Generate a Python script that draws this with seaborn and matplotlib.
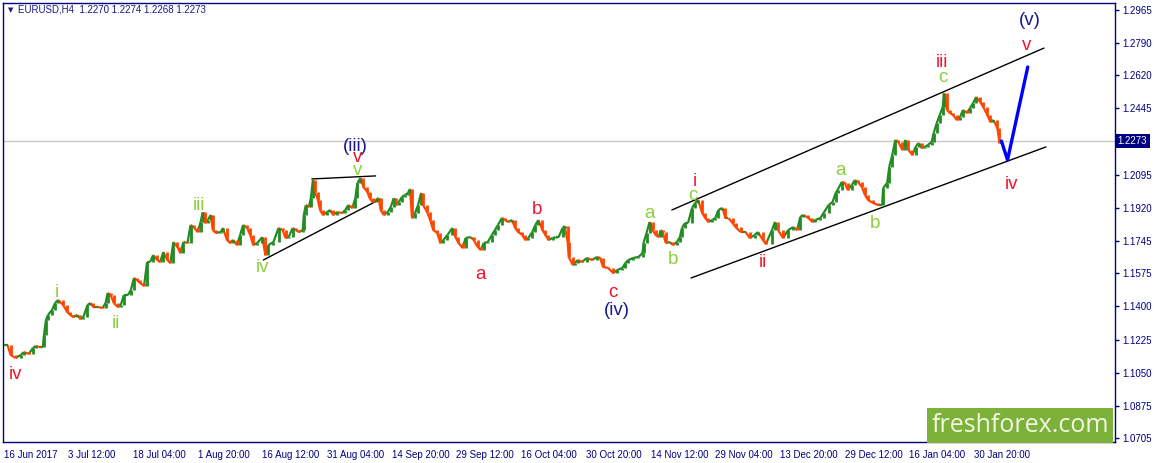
import matplotlib
matplotlib.use("Agg")
import matplotlib.pyplot as plt
import matplotlib.transforms as mtransforms
from matplotlib.collections import LineCollection
from matplotlib.patches import Rectangle
import numpy as np
import pandas as pd
import seaborn as sns

# ---------------- data (bar index, close) ----------------
bars = [0, 4, 7, 12, 17, 20, 25, 29, 32, 35, 39, 40, 42, 44, 48, 51, 54, 59, 63, 66,
        69, 73, 76, 79, 83, 86, 89, 93, 98, 101, 103, 106, 109, 113, 116, 119, 123, 126, 129, 132,
        135, 139, 142, 145, 148, 152, 155, 158, 162, 165, 168, 172, 175, 178, 182, 185, 188, 192, 195, 197,
        199, 202, 205, 207, 210, 215, 217, 221, 224, 227, 231, 234, 237, 241, 244, 247, 251,
        256, 259, 262, 267, 272, 276, 279, 282, 286, 289, 292, 296, 297, 299, 302, 304, 306, 308, 311, 313,
        316, 320, 323, 326, 330, 335, 338, 341, 345, 348, 350, 353, 356, 360, 362, 365, 368, 371, 373, 376,
        380, 383, 386, 388, 391, 394, 397, 400, 402, 404, 407, 410, 413, 415, 419, 422, 425, 429, 432, 435,
        439, 444, 447, 450, 454, 457, 462, 465, 469, 472, 475, 479, 483, 486, 489, 493, 496,
        499, 503, 506, 509, 513, 516, 519, 523, 526, 529, 533, 536, 539, 543, 546, 549, 553, 555, 558, 559,
        563, 565, 568, 572, 577, 582, 587, 590, 593, 598, 603, 607, 612, 615, 618, 623, 628, 632, 633, 636,
        639, 642, 645, 648, 650, 652, 655, 659, 662, 666, 669, 671, 674, 677, 681, 684, 687, 691, 694, 697,
        701, 704, 707, 711, 714, 717, 721, 724, 729, 734, 738,
        743, 746, 751, 754, 760, 763, 766, 771, 776, 781, 785, 788, 791, 796, 800, 803, 808, 811, 816, 820,
        823, 825, 829, 832, 835, 839, 842, 845, 849, 852, 855, 860, 865, 869, 870, 874, 876, 879, 882, 885,
        889, 892, 895, 899, 902, 905, 908, 911, 914, 918, 920, 923, 926, 929, 930, 933, 936, 939, 943, 946,
        949, 953, 956, 959, 962, 966, 969, 973, 976, 979, 983, 985, 987]

closes = [1.1196, 1.1196, 1.1143, 1.1128, 1.1143, 1.1159, 1.1149, 1.1180, 1.1191, 1.1186,
          1.1186, 1.1249, 1.1328, 1.1355, 1.1381, 1.1418, 1.1434, 1.1407, 1.1370, 1.1355,
          1.1344, 1.1355, 1.1333, 1.1344, 1.1407, 1.1418, 1.1397, 1.1397, 1.1392, 1.1418,
          1.1471, 1.1460, 1.1418, 1.1397, 1.1407, 1.1460, 1.1460, 1.1487, 1.1550, 1.1539,
          1.1524, 1.1508, 1.1634, 1.1634, 1.1671, 1.1645, 1.1634, 1.1687, 1.1645, 1.1629,
          1.1740, 1.1714, 1.1682, 1.1740, 1.1735, 1.1830, 1.1819, 1.1793, 1.1846, 1.1898,
          1.1840, 1.1856, 1.1883, 1.1803, 1.1788, 1.1793, 1.1814, 1.1751, 1.1735, 1.1751,
          1.1724, 1.1777, 1.1830, 1.1814, 1.1777, 1.1724, 1.1735,
          1.1766, 1.1671, 1.1724, 1.1740, 1.1814, 1.1803, 1.1761, 1.1766, 1.1814, 1.1803,
          1.1793, 1.1803, 1.1883, 1.1935, 1.1925, 1.1972, 1.2067, 1.2004, 1.1962, 1.1909,
          1.1883, 1.1898, 1.1909, 1.1883, 1.1898, 1.1893, 1.1909, 1.1935, 1.1920, 1.1972,
          1.2052, 1.2078, 1.2030, 1.2004, 1.1972, 1.1951, 1.1962, 1.1972, 1.1909, 1.1883,
          1.1898, 1.1925, 1.1972, 1.1935, 1.1951, 1.1978, 1.1988, 1.1999, 1.2020, 1.1867,
          1.1893, 1.1935, 1.1999, 1.1935, 1.1898, 1.1856, 1.1803, 1.1788, 1.1735, 1.1751,
          1.1777, 1.1814, 1.1766, 1.1735, 1.1708, 1.1761, 1.1766, 1.1751, 1.1714, 1.1698,
          1.1735, 1.1740, 1.1777, 1.1803, 1.1830, 1.1867, 1.1856,
          1.1846, 1.1856, 1.1814, 1.1793, 1.1777, 1.1751, 1.1761, 1.1793, 1.1830, 1.1856,
          1.1803, 1.1777, 1.1751, 1.1761, 1.1766, 1.1766, 1.1814, 1.1825, 1.1740, 1.1661,
          1.1619, 1.1629, 1.1645, 1.1634, 1.1656, 1.1645, 1.1661, 1.1656, 1.1608, 1.1603,
          1.1576, 1.1592, 1.1603, 1.1629, 1.1645, 1.1656, 1.1661, 1.1682, 1.1735, 1.1788,
          1.1846, 1.1803, 1.1777, 1.1766, 1.1803, 1.1793, 1.1735, 1.1740, 1.1724, 1.1740,
          1.1766, 1.1814, 1.1840, 1.1840, 1.1920, 1.1946, 1.1962, 1.1893, 1.1867, 1.1846,
          1.1856, 1.1867, 1.1909, 1.1920, 1.1867, 1.1867, 1.1840, 1.1819, 1.1793, 1.1793,
          1.1761,
          1.1777, 1.1793, 1.1751, 1.1729, 1.1803, 1.1846, 1.1803, 1.1761, 1.1803, 1.1819,
          1.1803, 1.1872, 1.1883, 1.1867, 1.1846, 1.1856, 1.1867, 1.1893, 1.1935, 1.1951,
          1.1999, 1.2015, 1.2057, 1.2052, 1.2015, 1.2041, 1.2067, 1.2057, 1.2030, 1.1988,
          1.1962, 1.1946, 1.1935, 1.1935, 1.2025, 1.2052, 1.2136, 1.2199, 1.2279, 1.2268,
          1.2226, 1.2279, 1.2226, 1.2199, 1.2242, 1.2263, 1.2236, 1.2242, 1.2252, 1.2268,
          1.2316, 1.2368, 1.2411, 1.2453, 1.2527, 1.2437, 1.2421, 1.2411, 1.2384, 1.2400,
          1.2437, 1.2421, 1.2448, 1.2474, 1.2506, 1.2479, 1.2453, 1.2411, 1.2374, 1.2384,
          1.2342, 1.2263, 1.2273]

# forecast path (blue)
proj_bars = [987, 993, 1013]
proj_prices = [1.2273, 1.2173, 1.2664]

# trend lines: (bar0, price0, bar1, price1)
channel_upper = [661, 1.1909, 1029, 1.2764]
channel_lower = [680, 1.1550, 1031, 1.2242]
tri_upper = [305, 1.2073, 368, 1.2089]
tri_lower = [257, 1.1645, 371, 1.1962]

last_price = 1.2273
header = "EURUSD,H4  1.2270 1.2274 1.2268 1.2273"

ytick_vals = [1.2965, 1.2790, 1.2620, 1.2445, 1.2095, 1.1920, 1.1745,
              1.1575, 1.1400, 1.1225, 1.1050, 1.0875, 1.0705]
xtick_bars = [0, 64, 128, 192, 256, 320, 384, 448, 512, 576, 640, 704, 768, 832, 896, 960]
xtick_labels = ["16 Jun 2017", "3 Jul 12:00", "18 Jul 04:00", "1 Aug 20:00", "16 Aug 12:00",
                "31 Aug 04:00", "14 Sep 20:00", "29 Sep 12:00", "16 Oct 04:00", "30 Oct 20:00",
                "14 Nov 12:00", "29 Nov 04:00", "13 Dec 20:00", "29 Dec 12:00", "16 Jan 04:00",
                "30 Jan 20:00"]

RED = '#f0142d'
GRN = '#8ccf3c'
NAV = '#1a1a8a'
wave_text = ["iv", "i", "ii", "iii", "iv", "v", "v", "(iii)", "a", "b", "c", "(iv)",
             "a", "b", "c", "i", "ii", "a", "b", "c", "iii", "iv", "v", "(v)"]
wave_bar = [12, 53, 111, 193, 256, 350, 350, 348, 472, 528, 603, 607,
            639, 662, 682, 684, 751, 828, 862, 929, 928, 997, 1012, 1015]
wave_price = [1.1038, 1.1471, 1.1312, 1.1935, 1.1603, 1.2120, 1.2184, 1.2242, 1.1571, 1.1914,
              1.1476, 1.1376, 1.1888, 1.1645, 1.1988, 1.2057, 1.1634, 1.2120, 1.1840, 1.2606,
              1.2690, 1.2046, 1.2775, 1.2912]
wave_color = [RED, GRN, GRN, GRN, GRN, GRN, RED, NAV, RED, RED, RED, NAV,
              GRN, GRN, GRN, RED, RED, GRN, GRN, GRN, RED, RED, RED, NAV]

# ---------------- figure ----------------
sns.set_style("white")
plt.rcParams['font.family'] = ['Liberation Sans', 'DejaVu Sans']

W, H = 1155, 463
fig = plt.figure(figsize=(W / 100, H / 100), dpi=100)
ax = fig.add_axes([3 / W, 21 / H, 1112 / W, 439 / H])
ax.set_facecolor('white')

df = pd.DataFrame({"bar": bars, "close": closes})
x = df["bar"].to_numpy(float)
y = df["close"].to_numpy(float)
up = y[1:] >= y[:-1]
cols = np.where(up, '#228b22', '#ff4500')

# current price horizontal line
ax.axhline(last_price, color='#c8c8c8', lw=1, zorder=1)

# price path coloured by direction (like dense candles)
segs = np.stack([np.column_stack([x[:-1], y[:-1]]), np.column_stack([x[1:], y[1:]])], axis=1)
lc = LineCollection(segs, colors=cols, linewidths=1.6, zorder=3, capstyle='butt')
ax.add_collection(lc)
# candle-like bodies at each close
ax.vlines(x[1:], np.minimum(y[:-1], y[1:]), np.maximum(y[:-1], y[1:]),
          colors=cols, linewidth=2.0, zorder=3)

# trend lines
for ln in (channel_upper, channel_lower, tri_upper, tri_lower):
    ax.plot([ln[0], ln[2]], [ln[1], ln[3]], color='black', lw=1, zorder=2)

# forecast
sns.lineplot(x=proj_bars, y=proj_prices, ax=ax, color='#0000ff', lw=2.4, zorder=4)

# wave labels
for t, b, p, c in zip(wave_text, wave_bar, wave_price, wave_color):
    ax.text(b, p, t, color=c, fontsize=13.5, ha='center', va='center', zorder=5)

ax.set_xlim(-0.5, 1099.3)
ax.set_ylim(1.0684, 1.3002)

for s in ax.spines.values():
    s.set_color('#000080')
    s.set_linewidth(1)
    s.set_visible(True)

ax.yaxis.tick_right()
ax.set_yticks(ytick_vals)
ax.set_yticklabels([f"{v:.4f}" for v in ytick_vals])
ax.set_xticks(xtick_bars)
ax.set_xticklabels(xtick_labels, ha='left')
ax.tick_params(axis='both', direction='out', length=3, width=1, color='#000080',
               labelcolor='#000080', labelsize=7, pad=2)
ax.tick_params(axis='x', pad=3)
ax.set_xlabel("")
ax.set_ylabel("")
ax.grid(False)

# current price box on axis
trans = mtransforms.blended_transform_factory(ax.transAxes, ax.transData)
ax.text(1.0025, last_price, f"{last_price:.4f}", transform=trans, color='white', fontsize=7,
        ha='left', va='center', clip_on=False,
        bbox=dict(facecolor='#000080', edgecolor='none', pad=1.6))

# header
fig.text(8 / W, 1 - 10 / H, "\u25BC", fontsize=5, color=NAV, va='center', ha='left',
         family=['DejaVu Sans'])
fig.text(18 / W, 1 - 10 / H, header, fontsize=7, color=NAV, va='center', ha='left')

# logo box
fig.patches.append(Rectangle((927 / W, 1 - 443 / H), 186 / W, 35 / H, transform=fig.transFigure,
                             facecolor='#7db23a', edgecolor='none', zorder=10))
fig.text(1020 / W, 1 - 426 / H, "freshforex.com", fontsize=18, color='#f4f6e4',
         ha='center', va='center', family=['Open Sans', 'DejaVu Sans'], zorder=11)

fig.savefig("out.png", dpi=100)
